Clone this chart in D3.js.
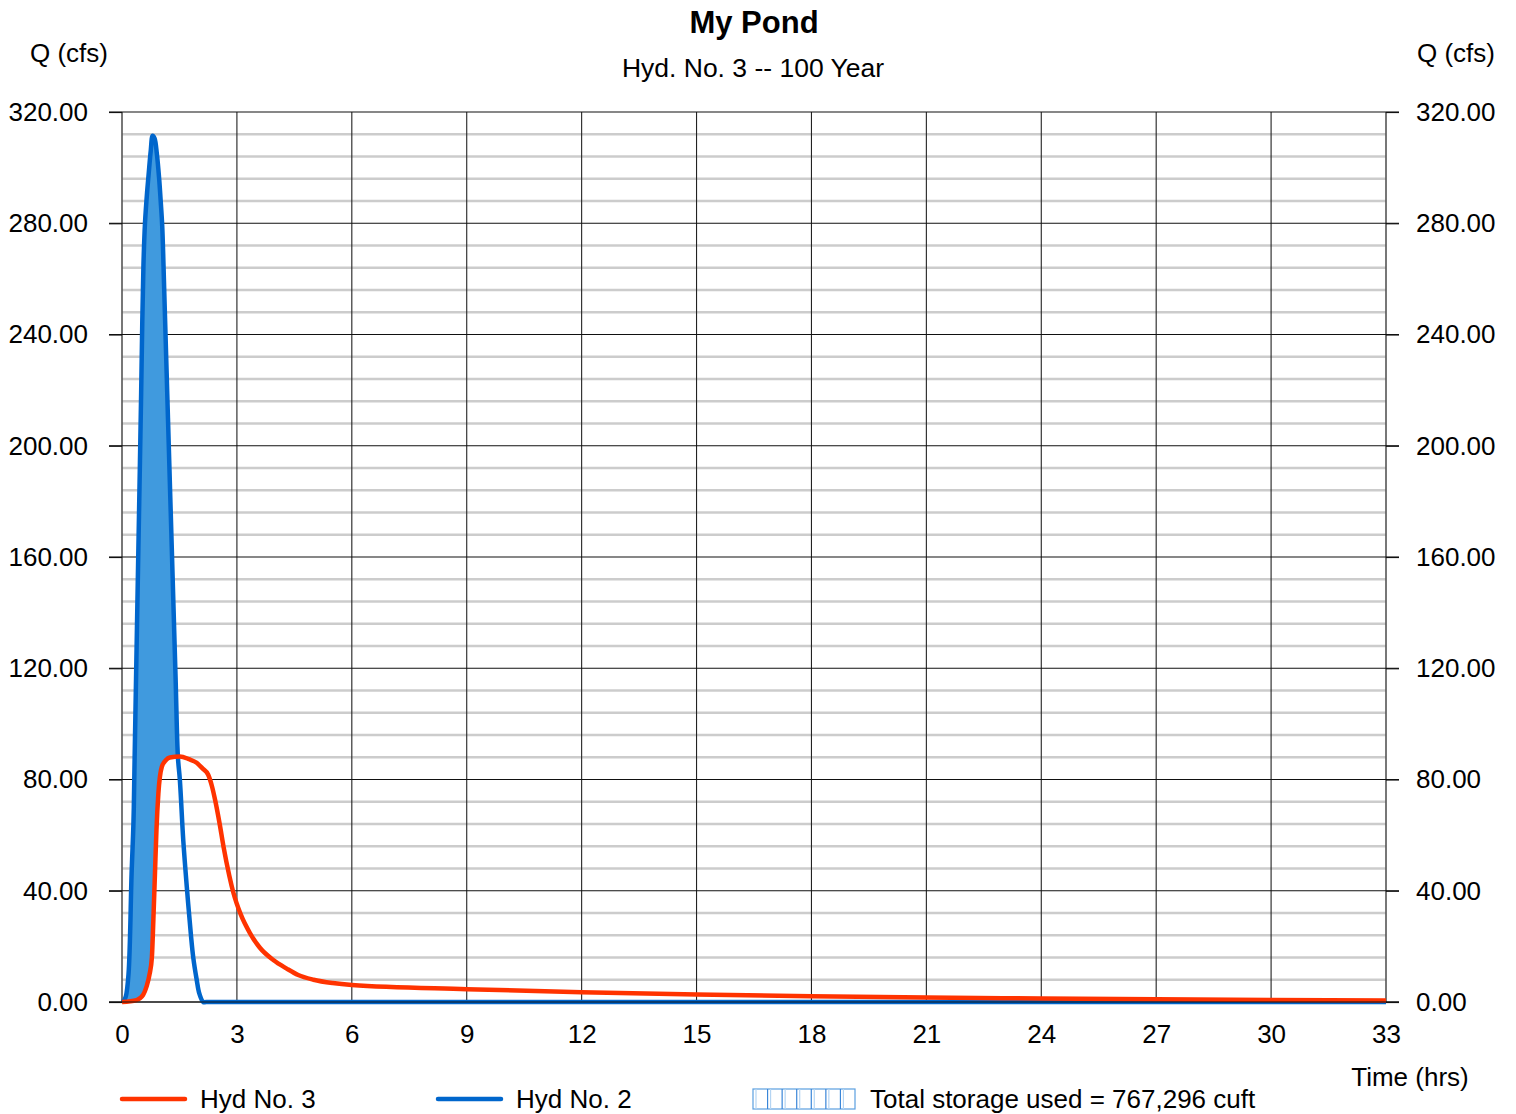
<!DOCTYPE html>
<html>
<head>
<meta charset="utf-8">
<script src="https://cdn.jsdelivr.net/npm/d3@7"></script>
<style>
  html, body { margin: 0; padding: 0; background: #fff; }
  svg { display: block; }
  text { font-family: "Liberation Sans", Arial, Helvetica, sans-serif; fill: #000; }
</style>
</head>
<body>
<svg id="chart" width="1516" height="1114"></svg>
<script>
// ---- Data ----
const title = "My Pond";
const subtitle = "Hyd. No. 3 -- 100 Year";
const yTicks = [0, 40, 80, 120, 160, 200, 240, 280, 320];
const yMinorStep = 8;
const xTicks = [0, 3, 6, 9, 12, 15, 18, 21, 24, 27, 30, 33];

// Hyd No. 2 (inflow)
const inflowTime = [0, 0.05, 0.10, 0.17, 0.25, 0.30, 0.33, 0.40, 0.45, 0.50, 0.53, 0.56, 0.60, 0.66, 0.71, 0.75, 0.80, 0.85, 0.91, 0.97, 1.01, 1.05, 1.10, 1.20, 1.30, 1.40, 1.46, 1.51, 1.60, 1.70, 1.80, 1.86, 1.95, 2.02, 2.12, 2.20, 33];
const inflowQ    = [0, 0.5, 2, 10, 46, 65, 88, 142, 180, 219, 245, 265, 280, 292, 300, 306, 311.5, 310.5, 305, 296, 288, 279, 257, 210, 163, 116, 88, 80, 58, 40, 24, 16, 8, 3, 0, 0, 0];

// Hyd No. 3 (outflow)
const outflowTime = [0, 0.38, 0.55, 0.64, 0.72, 0.78, 0.82, 0.86, 0.90, 0.95, 1.04, 1.15, 1.25, 1.51, 1.75, 1.95, 2.10, 2.25, 2.35, 2.43, 2.55, 2.65, 2.80, 2.91, 3.10, 3.34, 3.60, 3.95, 4.30, 4.60, 5.00, 5.50, 6.00, 9, 12, 15, 18, 21, 24, 27, 30, 33];
const outflowQ    = [0, 0.7, 2.5, 5.5, 10, 16, 30, 46, 62, 75, 84.6, 87, 87.9, 88.3, 87.3, 86, 84, 81.7, 77.5, 72.7, 64, 55.9, 45.5, 39.2, 31.5, 24.8, 19.5, 15.1, 12, 9.7, 8, 6.8, 6.1, 4.6, 3.5, 2.7, 2.1, 1.6, 1.3, 1.0, 0.7, 0.5];

const legendLabels = ["Hyd No. 3", "Hyd No. 2", "Total storage used = 767,296 cuft"];

// ---- Layout ----
const svg = d3.select("#chart");
const L = 122, R = 1386, T = 112, B = 1002;
const x = d3.scaleLinear().domain([0, 33]).range([L, R]);
const y = d3.scaleLinear().domain([0, 320]).range([B, T]);

const RED = "#ff3300", BLUE = "#0066cc", FILL = "#409ade";

// minor horizontal grid
const minor = d3.range(0, 320 + 0.001, yMinorStep).filter(v => v % 40 !== 0);
svg.append("g").selectAll("line").data(minor).join("line")
  .attr("x1", L).attr("x2", R).attr("y1", d => y(d)).attr("y2", d => y(d))
  .attr("stroke", "#cccccc").attr("stroke-width", 2.6);

// vertical grid
svg.append("g").selectAll("line").data(xTicks).join("line")
  .attr("x1", d => x(d)).attr("x2", d => x(d)).attr("y1", T).attr("y2", B)
  .attr("stroke", d => (d === 0 || d === 33) ? "#555" : "#222").attr("stroke-width", d => (d === 0 || d === 33) ? 1.6 : 1.1);

// major horizontal grid
svg.append("g").selectAll("line").data(yTicks).join("line")
  .attr("x1", L - 13).attr("x2", R + 13).attr("y1", d => y(d)).attr("y2", d => y(d))
  .attr("stroke", "#111").attr("stroke-width", 1.2);

// data rows
const inflow = inflowTime.map((t, i) => ({ t, q: inflowQ[i] }));
const outflow = outflowTime.map((t, i) => ({ t, q: outflowQ[i] }));
const curveIn = d3.curveCatmullRom.alpha(0.5);
const curveOut = d3.curveMonotoneX;

const lineIn = d3.line().x(d => x(d.t)).y(d => y(d.q)).curve(curveIn);
const lineOut = d3.line().x(d => x(d.t)).y(d => y(d.q)).curve(curveOut);

// storage fill: area under inflow, clipped to the region above the outflow curve
const defs = svg.append("defs");
const clip = defs.append("clipPath").attr("id", "aboveOut");
clip.append("path").datum(outflow)
  .attr("d", d3.area().x(d => x(d.t)).y0(T - 50).y1(d => y(d.q)).curve(curveOut));

svg.append("path").datum(inflow)
  .attr("d", d3.area().x(d => x(d.t)).y0(B).y1(d => y(d.q)).curve(curveIn))
  .attr("fill", FILL).attr("clip-path", "url(#aboveOut)");

// lines
svg.append("path").datum(inflow)
  .attr("d", lineIn)
  .attr("fill", "none").attr("stroke", BLUE).attr("stroke-width", 4.5).attr("stroke-linejoin", "round");
svg.append("path").datum(outflow)
  .attr("d", lineOut)
  .attr("fill", "none").attr("stroke", RED).attr("stroke-width", 4.5).attr("stroke-linejoin", "round");

// axes
const fmt = d3.format(".2f");
const axL = svg.append("g").attr("transform", `translate(${L},0)`)
  .call(d3.axisLeft(y).tickValues(yTicks).tickSize(13).tickPadding(21).tickFormat(fmt));
const axR = svg.append("g").attr("transform", `translate(${R},0)`)
  .call(d3.axisRight(y).tickValues(yTicks).tickSize(13).tickPadding(17).tickFormat(fmt));
const axB = svg.append("g").attr("transform", `translate(0,${B})`)
  .call(d3.axisBottom(x).tickValues(xTicks).tickSize(0).tickPadding(23).tickFormat(d3.format("d")));
[axL, axR, axB].forEach(g => {
  g.select(".domain").remove();
  g.selectAll(".tick line").attr("stroke", "#111").attr("stroke-width", 1.2);
  g.selectAll("text").style("font-size", "26px").attr("fill", "#000")
    .style("font-family", '"Liberation Sans", Arial, sans-serif');
});
svg.append("line").attr("x1", L - 13).attr("x2", R + 13).attr("y1", B).attr("y2", B)
  .attr("stroke", "#111").attr("stroke-width", 1.2);

// titles
svg.append("text").attr("x", 754).attr("y", 33).attr("text-anchor", "middle")
  .style("font-size", "31px").style("font-weight", "bold").text(title);
svg.append("text").attr("x", 753).attr("y", 77).attr("text-anchor", "middle")
  .style("font-size", "26.5px").text(subtitle);
svg.append("text").attr("x", 69).attr("y", 62).attr("text-anchor", "middle")
  .style("font-size", "26px").text("Q (cfs)");
svg.append("text").attr("x", 1456).attr("y", 62).attr("text-anchor", "middle")
  .style("font-size", "26px").text("Q (cfs)");
svg.append("text").attr("x", 1410).attr("y", 1086).attr("text-anchor", "middle")
  .style("font-size", "26px").text("Time (hrs)");

// legend
const lg = svg.append("g");
lg.append("line").attr("x1", 122).attr("x2", 185).attr("y1", 1099).attr("y2", 1099)
  .attr("stroke", RED).attr("stroke-width", 4.5).attr("stroke-linecap", "round");
lg.append("text").attr("x", 200).attr("y", 1108).style("font-size", "26px").text(legendLabels[0]);
lg.append("line").attr("x1", 438).attr("x2", 501).attr("y1", 1099).attr("y2", 1099)
  .attr("stroke", BLUE).attr("stroke-width", 4.5).attr("stroke-linecap", "round");
lg.append("text").attr("x", 516).attr("y", 1108).style("font-size", "26px").text(legendLabels[1]);
// storage icon
const ix = 753, iy = 1089, iw = 102, ih = 20, cells = 7;
lg.append("rect").attr("x", ix).attr("y", iy).attr("width", iw).attr("height", ih)
  .attr("fill", "#fff").attr("stroke", "#5a9fe0").attr("stroke-width", 1.2);
d3.range(1, cells).forEach(i => {
  const cx = ix + i * iw / cells;
  lg.append("line").attr("x1", cx).attr("x2", cx).attr("y1", iy).attr("y2", iy + ih)
    .attr("stroke", "#3a86d8").attr("stroke-width", 1.2);
  lg.append("line").attr("x1", cx + 3).attr("x2", cx + 3).attr("y1", iy).attr("y2", iy + ih)
    .attr("stroke", "#b5d5f3").attr("stroke-width", 1.2);
});
lg.append("line").attr("x1", ix + 3).attr("x2", ix + 3).attr("y1", iy).attr("y2", iy + ih)
  .attr("stroke", "#b5d5f3").attr("stroke-width", 1.2);
lg.append("text").attr("x", 870).attr("y", 1108).style("font-size", "26px").text(legendLabels[2]);
</script>
</body>
</html>
